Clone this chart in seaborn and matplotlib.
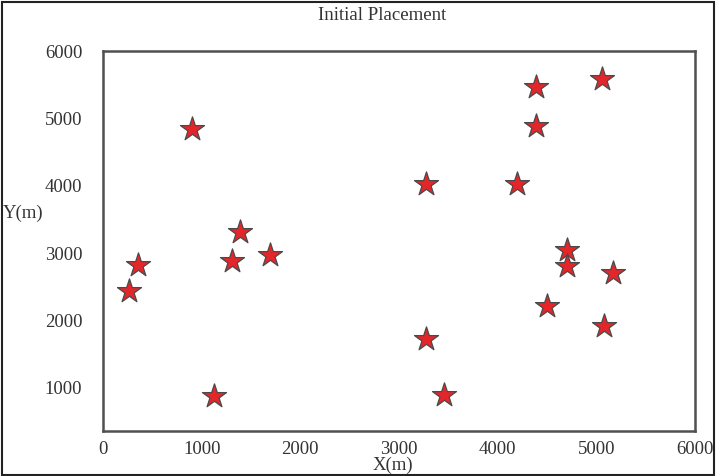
import matplotlib
matplotlib.use("Agg")
import matplotlib.pyplot as plt
import matplotlib.patches as mpatches
import pandas as pd
import seaborn as sns

# Node coordinates (metres)
x_m = [900, 1390, 350, 1310, 1690, 260, 1130,
       4390, 5060, 4390, 3270, 4200,
       4700, 4700, 5170, 4500, 5080, 3270, 3460]
y_m = [4840, 3320, 2820, 2880, 2970, 2440, 880,
       5470, 5580, 4890, 4020, 4020,
       3040, 2810, 2710, 2220, 1920, 1720, 890]

x_ticks = [0, 1000, 2000, 3000, 4000, 5000, 6000]
y_ticks = [1000, 2000, 3000, 4000, 5000, 6000]

df = pd.DataFrame({"X": x_m, "Y": y_m})

sns.set_style("white")
plt.rcParams["font.family"] = ["Liberation Serif", "DejaVu Serif"]

fig = plt.figure(figsize=(7.16, 4.76), dpi=100)
ax = fig.add_axes([103 / 716, 45 / 476, 592 / 716, 380 / 476])

sns.scatterplot(data=df, x="X", y="Y", marker="*", s=330,
                color="#e4252a", edgecolor="#4a4a4a", linewidth=0.9,
                ax=ax, legend=False, zorder=3)

ax.set_xlim(0, 6000)
ax.set_ylim(360, 6000)
ax.set_xticks(x_ticks)
ax.set_yticks(y_ticks)
ax.tick_params(axis="both", length=0, labelsize=13.5, labelcolor="#333333")
ax.tick_params(axis="x", pad=7)
ax.tick_params(axis="y", pad=15)

for sp in ax.spines.values():
    sp.set_visible(True)
    sp.set_color("#505050")
    sp.set_linewidth(1.8)

ax.set_title("Initial Placement", fontsize=13.5, color="#333333",
             x=(382 - 103) / 592, y=1.0, pad=22)

ax.set_xlabel("X(m)", fontsize=13.5, color="#333333")
ax.xaxis.set_label_coords((393 - 103) / 592, -(457 - 431) / 380)

ax.set_ylabel("Y(m)", fontsize=13.5, color="#333333", rotation=0,
              ha="left", va="center")
ax.yaxis.set_label_coords((3 - 103) / 592, (431 - 213) / 380)

# outer frame around the whole figure
fig.patches.append(mpatches.Rectangle((2 / 716, 1 / 476), 712 / 716, 473 / 476,
                                      transform=fig.transFigure, fill=False,
                                      edgecolor="#222222", linewidth=1.5))

fig.savefig("out.png", dpi=100)
